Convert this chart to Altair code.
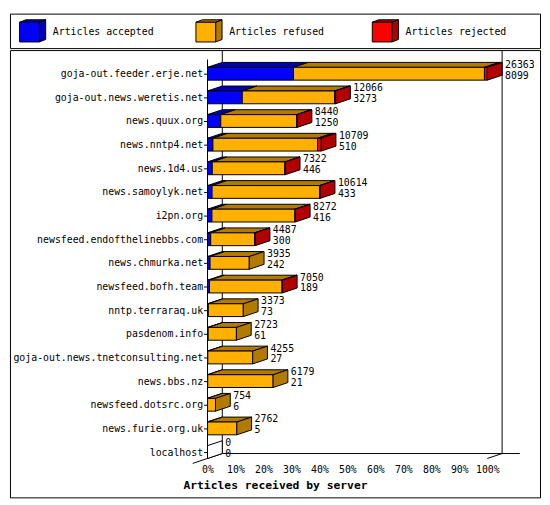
import json
import altair as alt
import pandas as pd

# ---------------- data ----------------
servers = [
    "goja-out.feeder.erje.net", "goja-out.news.weretis.net", "news.quux.org",
    "news.nntp4.net", "news.1d4.us", "news.samoylyk.net", "i2pn.org",
    "newsfeed.endofthelinebbs.com", "news.chmurka.net", "newsfeed.bofh.team",
    "nntp.terraraq.uk", "pasdenom.info", "goja-out.news.tnetconsulting.net",
    "news.bbs.nz", "newsfeed.dotsrc.org", "news.furie.org.uk", "localhost",
]
offered = [26363, 12066, 8440, 10709, 7322, 10614, 8272, 4487, 3935, 7050,
           3373, 2723, 4255, 6179, 754, 2762, 0]
accepted = [8099, 3273, 1250, 510, 446, 433, 416, 300, 242, 189,
            73, 61, 27, 21, 6, 5, 0]
rejected = [270, 90, 30, 340, 25, 30, 30, 25, 0, 20,
            0, 0, 0, 0, 0, 0, 0]
series = ["Articles accepted", "Articles refused", "Articles rejected"]
x_ticks = [0, 10, 20, 30, 40, 50, 60, 70, 80, 90, 100]
x_title = "Articles received by server"

# ---------------- style ----------------
FRONT = {"Articles accepted": "#0000ff", "Articles refused": "#ffb000",
         "Articles rejected": "#ff0000"}
DARK = {"Articles accepted": "#0000b2", "Articles refused": "#b27b00",
        "Articles rejected": "#b20000"}
FONT = "DejaVu Sans Mono"
W = 538
LEG_H = 35
MAIN_H = 454
X0 = 200.5      # pixel of 0 %
XW = 284        # pixels for 100 %
DXPX = 15       # 3D depth (px, right)
DYPX = 5        # 3D depth (px, up)
ROW0 = 24       # pixel centre of first row
STEP = 24       # row spacing
HALFPX = 6.5    # half height of bar front

n = len(servers)
dxp = DXPX / XW * 100
dyr = DYPX / STEP
hr = HALFPX / STEP
floor_row = (n - 1) + hr
top_row = -ROW0 / STEP


def clip01(v):
    return max(0.0, min(1.0, v))


maxv = max(offered)
tops, fronts, sides, labels = [], [], [], []
for i in range(n):
    refused = offered[i] - accepted[i] - rejected[i]
    parts = list(zip(series, [accepted[i], refused, rejected[i]]))
    yt, yb = i - hr, i + hr
    start = 0
    last = None
    for cat, v in parts:
        if v <= 0:
            continue
        x0 = start / maxv * 100
        x1 = (start + v) / maxv * 100
        fid = f"t{i}-{cat}"
        fronts.append(dict(x=x0, x2=x1, y=yt, y2=yb, fill=FRONT[cat]))
        pts = sorted({round(x0, 9), round(x1, 9), round(x0 + dxp, 9), round(x1 + dxp, 9)})
        for x in pts:
            tops.append(dict(face=fid, x=x,
                             y=yt - dyr * clip01((x - x0) / dxp),
                             y2=yt - dyr * clip01((x - x1) / dxp),
                             fill=DARK[cat]))
        start += v
        last = cat
    xe = start / maxv * 100
    col = DARK[last] if last else "#ffffff"
    sides.append(dict(face=f"s{i}", x=xe, y=yt, y2=yb, fill=col))
    sides.append(dict(face=f"s{i}", x=xe + dxp, y=yt - dyr, y2=yb - dyr, fill=col))
    labels.append(dict(row=i, lx=xe + dxp, tot=str(offered[i]), acc=str(accepted[i])))

frame = pd.DataFrame([
    dict(x=0, x2=0, y=(9.5 - ROW0) / STEP, y2=floor_row),                       # front left axis
    dict(x=dxp, x2=dxp, y=top_row, y2=floor_row - dyr),                          # back left wall
    dict(x=100 + dxp, x2=100 + dxp, y=top_row, y2=floor_row - dyr),              # back right wall
    dict(x=dxp, x2=100 + dxp + 18 / XW * 100, y=floor_row - dyr, y2=floor_row - dyr),  # back floor
    dict(x=-dxp, x2=dxp, y=floor_row + dyr, y2=floor_row - dyr),                 # left floor edge
    dict(x=100, x2=100 + dxp, y=floor_row, y2=floor_row - dyr),                  # right floor edge
])

XS = alt.Scale(domain=[0, 100], range=[X0, X0 + XW], zero=False, nice=False)
YS = alt.Scale(domain=[0, n - 1], range=[ROW0, ROW0 + (n - 1) * STEP], zero=False, nice=False)
floor_px = ROW0 + floor_row * STEP
XAX = alt.Axis(values=x_ticks, labelExpr="datum.value + '%'", offset=floor_px - MAIN_H,
               grid=False, domain=False, ticks=False, labelPadding=6, labelFlush=False,
               labelOverlap=False, labelFont=FONT, labelFontSize=10, labelColor="black",
               title=x_title, titleFont=FONT, titleFontSize=11.5, titleFontWeight="bold",
               titleColor="black", titleX=W / 2, titleY=27, titleAlign="center",
               titleBaseline="middle")
YAX = alt.Axis(values=list(range(n)), labelExpr=json.dumps(servers) + "[datum.value]",
               offset=-X0, grid=False, domain=False, ticks=True, tickSize=4,
               tickColor="black", labelPadding=1, labelLimit=400, labelOverlap=False,
               labelFont=FONT, labelFontSize=10, labelColor="black", title=None)


def X(f):
    return alt.X(f, scale=XS, axis=XAX)


def Y(f):
    return alt.Y(f, scale=YS, axis=YAX)


frame_l = alt.Chart(frame).mark_rule(color="black", strokeWidth=1).encode(
    x=X("x:Q"), x2="x2:Q", y=Y("y:Q"), y2="y2:Q")

top_l = alt.Chart(pd.DataFrame(tops)).mark_area(
    orient="vertical", stroke="black", strokeWidth=1, opacity=1).encode(
    x=X("x:Q"), y=Y("y:Q"), y2="y2:Q", detail="face:N",
    fill=alt.Fill("fill:N", scale=None))

front_l = alt.Chart(pd.DataFrame(fronts)).mark_rect(
    stroke="black", strokeWidth=1, opacity=1).encode(
    x=X("x:Q"), x2="x2:Q", y=Y("y:Q"), y2="y2:Q",
    fill=alt.Fill("fill:N", scale=None))

side_l = alt.Chart(pd.DataFrame(sides)).mark_area(
    orient="vertical", stroke="black", strokeWidth=1, opacity=1).encode(
    x=X("x:Q"), y=Y("y:Q"), y2="y2:Q", detail="face:N",
    fill=alt.Fill("fill:N", scale=None))

lab = pd.DataFrame(labels)
tot_l = alt.Chart(lab).mark_text(align="left", baseline="middle", dx=3, dy=-9,
                                 font=FONT, fontSize=10, color="black").encode(
    x=X("lx:Q"), y=Y("row:Q"), text="tot:N")
acc_l = alt.Chart(lab).mark_text(align="left", baseline="middle", dx=3, dy=2,
                                 font=FONT, fontSize=10, color="black").encode(
    x=X("lx:Q"), y=Y("row:Q"), text="acc:N")

main = alt.layer(frame_l, top_l, front_l, side_l, tot_l, acc_l).properties(
    width=W, height=MAIN_H)

# ---------------- legend panel ----------------
leg = pd.DataFrame({"label": series,
                    "front": [FRONT[s] for s in series],
                    "dark": [DARK[s] for s in series]})
FRONT_PATH = "M-1,-0.66L0.51,-0.66L0.51,0.85L-1,0.85Z"
DARK_PATH = ("M-1,-0.66L-0.51,-0.85L1,-0.85L0.51,-0.66Z "
             "M0.51,-0.66L1,-0.85L1,0.66L0.51,0.85Z")
lx = alt.X("label:N", scale=alt.Scale(domain=series, range=[23, 381], padding=0), axis=None)
leg_base = alt.Chart(leg).encode(x=lx)
leg_dark = leg_base.mark_point(shape=DARK_PATH, size=702, filled=True, stroke="black",
                               strokeWidth=1, opacity=1).encode(
    fill=alt.Fill("dark:N", scale=None))
leg_front = leg_base.mark_point(shape=FRONT_PATH, size=702, filled=True, stroke="black",
                                strokeWidth=1, opacity=1).encode(
    fill=alt.Fill("front:N", scale=None))
leg_text = leg_base.mark_text(align="left", baseline="middle", dx=20.5, dy=1,
                              font=FONT, fontSize=10, color="black").encode(text="label:N")
legend = alt.layer(leg_dark, leg_front, leg_text).properties(width=W, height=LEG_H)

chart = alt.vconcat(legend, main, spacing=0).resolve_scale(
    x="independent", y="independent").configure_view(
    stroke="black", strokeWidth=1).properties(padding=1, background="white")

chart.save("out.html", embed_options={"renderer": "svg", "actions": False})
